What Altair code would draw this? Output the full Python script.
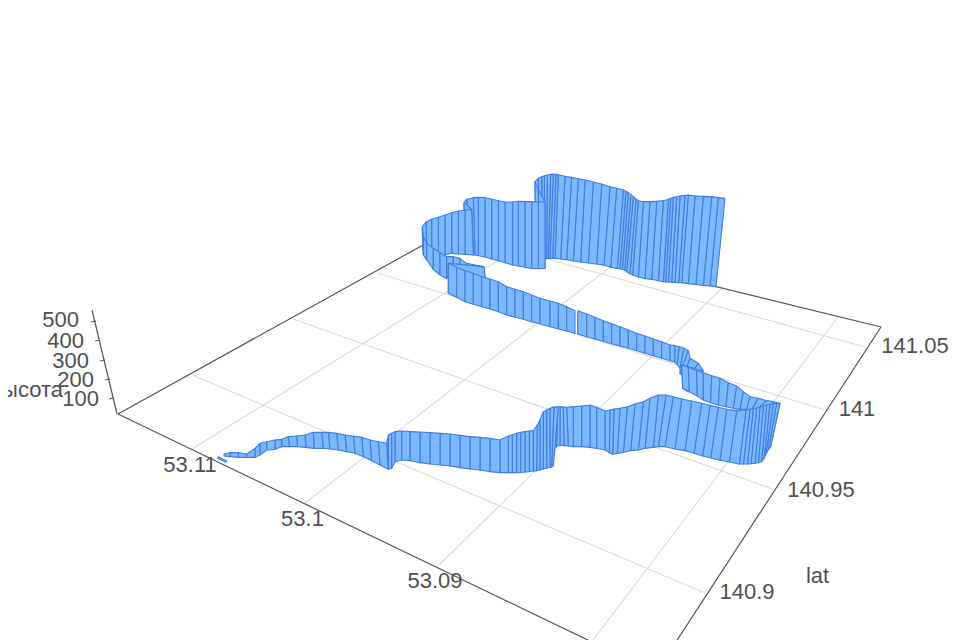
import altair as alt
import pandas as pd

# ---- text ----
center_labels = ["53.11", "53.1", "53.09", "140.9", "140.95", "141", "141.05", "lat"]
center_x = [190, 302.5, 435, 747, 821, 857, 915, 817.5]
center_y = [465, 519, 581, 592, 490, 409, 346, 576]
right_labels = ["500", "400", "300", "200", "100", "высота"]
right_x = [79, 84, 89, 94, 99, 63]
right_y = [320, 341, 360.5, 379.5, 399, 390]

# ---- floor grid, axes (projected) ----
grid_x1 = [192, 293, 377, 450, 192, 305, 437, 593]
grid_y1 = [375, 319, 273, 232, 449, 503, 567, 640]
grid_x2 = [705, 773, 825, 865, 528, 622, 723, 838]
grid_y2 = [593, 489, 410, 347, 242, 258, 287, 317]
axis_x1 = [118, 118, 461, 881, 117]
axis_y1 = [414, 414, 224, 327, 414]
axis_x2 = [461, 592, 881, 672, 92]
axis_y2 = [224, 642, 327, 648, 310]
tick_x1 = [91, 95, 100, 105, 109]
tick_y1 = [322, 341, 361, 380, 399]
tick_x2 = [96, 100, 105, 110, 114]
tick_y2 = [321, 340, 360, 379, 398]

# ---- ribbon: top x, top y, base x, base y of each station, read in crops at 3x ----
far_wall = [
    (945,115,918,380),(925,113,900,378),(905,110,880,376),(880,109,858,373),(855,108,835,371),
    (835,105,815,368),(825,106,806,368),(810,108,795,367),(800,110,785,367),(790,112,775,366),
    (782,115,767,366),(775,118,760,365),(760,122,745,362),
    (740,124,725,358),(720,125,705,356),(700,125,685,351),(685,122,668,345),(678,117,660,341),
    (670,110,650,335),(663,104,644,331),
    (655,98,637,328),(648,94,630,326),(640,90,622,325),(620,85,602,322),(600,80,582,316),(575,72,560,312),
    (550,66,535,309),(525,60,512,306),(505,56,490,303),(485,52,470,299),(465,49,452,297),
    (445,44,435,295),(438,43,428,295),(430,42,420,295),(422,43,415,295),(412,45,410,295),
    (403,47,404,298),(395,50,398,300),(385,55,388,300),(375,65,378,300),
    (385,90,390,310),(405,125,405,325),(385,126,385,326),(365,125,365,325),(345,125,345,322),
    (325,124,325,318),(308,126,308,315),(285,126,285,308),(265,122,265,302),(245,117,245,297),
    (225,113,225,291),(205,112,205,287),(190,113,195,285),(170,118,180,280),(162,128,165,275),
    (185,148,190,285),(165,150,165,283),(145,153,145,282),(125,158,125,280),(105,165,105,285),
    (85,172,85,285),(65,178,65,270),(48,186,50,262),(37,200,38,262),(40,230,40,285),
    (50,250,50,300),(70,265,70,328),(90,278,90,345),(110,290,110,356),(130,290,130,315),
    (150,295,150,325),(170,310,170,330),(195,315,195,340),(222,320,225,352),(115,310,115,400),
    (140,322,140,412),(165,332,165,425),(190,340,190,433),(215,350,215,440),(240,357,240,447),
    (265,365,265,455),(290,380,290,465),(315,388,315,472),(340,395,340,478),(365,405,365,485),
    (390,415,390,492),(420,423,420,500),(445,430,445,507),(470,440,470,513),(495,452,495,520),
]
middle_wall = [
    (503,452,503,522),(530,462,530,530),(555,472,555,537),(580,482,580,544),(605,491,605,551),
    (630,500,630,558),(655,510,655,565),(680,520,680,572),(705,528,705,580),(730,537,730,587),
]
bend_wall = [
    (340,27,340,77),(365,35,365,85),(390,45,390,92),(405,47,405,97),(418,50,412,103),
    (432,55,420,115),(445,62,420,130),(450,85,430,140),(475,100,440,150),(490,122,445,185),
    (425,105,428,175),
    (445,112,448,185),(470,122,472,198),(490,128,490,210),(515,137,512,218),(540,145,535,225),
    (565,158,558,230),(590,168,580,235),(610,185,600,238),(630,200,620,238),(655,205,635,240),
    (680,212,655,235),(700,215,680,300),(720,220,692,350),(710,220,685,360),(700,222,678,372),
    (690,223,672,385),(680,225,665,395),(670,228,655,398),
    (660,232,645,400),(650,234,633,401),(640,236,622,402),(630,238,610,402),(618,240,598,402),
    (590,242,568,396),(560,238,540,391),
    (535,232,512,384),(510,226,488,378),(485,220,462,370),(455,213,435,362),(425,207,405,357),
    (400,200,375,350),(378,195,355,350),(355,195,340,352),(330,205,315,355),(310,215,295,360),
    (285,222,272,362),(262,230,250,367),(240,235,232,370),(222,237,218,373),(210,240,208,368),
    (195,243,195,360),(170,232,170,355),(150,225,150,352),(125,228,125,350),(100,230,100,350),
    (80,232,85,348),(70,231,72,347),(60,230,60,345),(52,232,50,350),(45,232,40,360),
    (40,232,38,380),(35,232,35,408),
]
near_wall = [
    (1045,20,1030,198),(1032,22,1025,200),(1020,25,1020,202),(1010,30,1010,205),(1000,35,1000,207),
    (990,60,990,210),(982,75,980,212),(970,92,970,213),(958,93,958,215),
    (945,95,945,216),(932,97,932,217),(920,100,920,218),(907,104,907,218),(895,108,895,218),
    (870,120,870,218),(840,115,840,215),
    (810,112,810,210),(780,110,780,207),(750,106,750,203),(720,102,720,198),(690,100,690,195),
    (660,98,660,192),(630,96,630,188),(600,95,600,182),(575,93,575,180),(555,95,555,185),
    (545,100,545,205),(535,105,535,208),(530,130,535,208),(505,125,510,195),(480,120,485,182),
    (455,112,460,170),(430,108,435,160),(405,105,410,155),(380,100,385,150),(355,97,360,147),
    (335,97,340,145),(310,97,312,145),(285,105,288,142),(260,108,262,140),(235,110,238,140),
    (215,118,215,140),(195,120,195,148),(170,125,170,150),(150,130,150,165),(135,145,135,172),
    (110,162,110,172),(85,158,85,172),(60,158,60,170),(42,162,42,168),
]
tail_dash = [(25,170,22,175),(50,183,47,187)]

strands = [
    (far_wall, 410, 160),
    (middle_wall, 410, 160),
    (bend_wall, 540, 330),
    (near_wall, 210, 400),
    (tail_dash, 210, 400),
]

rows = []
seg = 0
for stations, ox, oy in strands:
    pts = [(ox + a / 3, oy + b / 3, ox + c / 3, oy + d / 3) for a, b, c, d in stations]
    for p, q in zip(pts, pts[1:]):
        quad = [(p[0], p[1]), (q[0], q[1]), (q[2], q[3]), (p[2], p[3]), (p[0], p[1])]
        for v, (px, py) in enumerate(quad):
            rows.append({"seg": seg, "v": v, "px": px, "py": py})
        seg += 1
ribbon = pd.DataFrame(rows)

X = alt.X("px:Q", scale=alt.Scale(domain=[8, 952], nice=False, zero=False), axis=None)
Y = alt.Y("py:Q", scale=alt.Scale(domain=[640, 8], nice=False, zero=False), axis=None)


def rules(x1, y1, x2, y2, color, width):
    df = pd.DataFrame({"px": x1, "py": y1, "ex": x2, "ey": y2})
    return alt.Chart(df).mark_rule(color=color, strokeWidth=width).encode(
        x=X, y=Y, x2="ex:Q", y2="ey:Q"
    )


grid = rules(grid_x1, grid_y1, grid_x2, grid_y2, "#dcdcdc", 1.2)
axes = rules(axis_x1, axis_y1, axis_x2, axis_y2, "#555555", 1.2)
ticks = rules(tick_x1, tick_y1, tick_x2, tick_y2, "#555555", 1)

walls = alt.Chart(ribbon).mark_line(
    fill="#7ab8ff", stroke="#417ce4", strokeWidth=1.1, strokeJoin="round"
).encode(x=X, y=Y, detail="seg:N", order=alt.Order("v:Q"))

font = dict(font="Liberation Sans", fontSize=22, color="#505050", baseline="middle")
center_text = alt.Chart(
    pd.DataFrame({"px": center_x, "py": center_y, "t": center_labels})
).mark_text(align="center", **font).encode(x=X, y=Y, text="t:N")
right_text = alt.Chart(
    pd.DataFrame({"px": right_x, "py": right_y, "t": right_labels})
).mark_text(align="right", **font).encode(x=X, y=Y, text="t:N")

chart = (
    alt.layer(grid, axes, ticks, walls, center_text, right_text)
    .properties(width=944, height=632, padding=0, autosize=alt.AutoSizeParams(type="none"))
    .configure_view(stroke=None)
)
chart.save("out.html", embed_options={"renderer": "svg", "actions": False})
